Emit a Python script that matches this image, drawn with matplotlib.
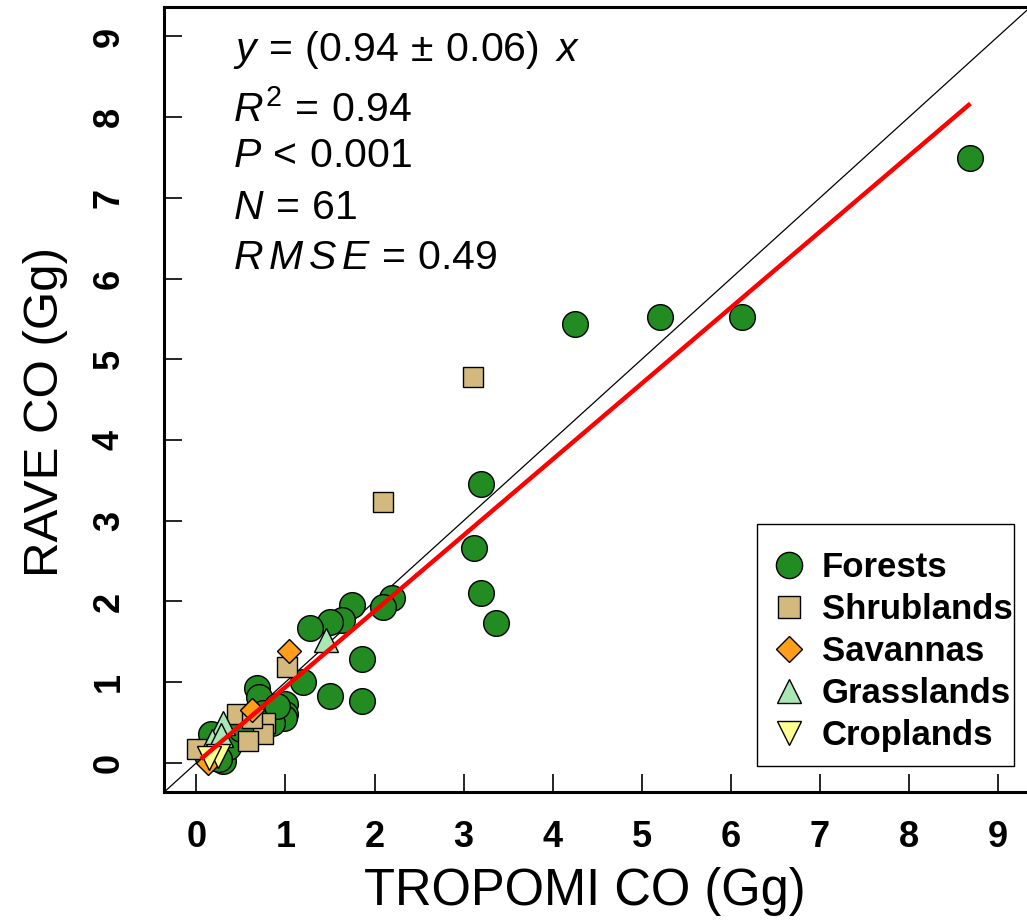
import matplotlib
matplotlib.use("Agg")
import matplotlib.pyplot as plt
import numpy as np
from matplotlib.lines import Line2D
from matplotlib.patches import Rectangle

plt.rcParams['font.family'] = ['Liberation Sans', 'DejaVu Sans']
plt.rcParams['mathtext.fontset'] = 'custom'
plt.rcParams['mathtext.rm'] = 'Liberation Sans'
plt.rcParams['mathtext.it'] = 'Liberation Sans:italic'
plt.rcParams['mathtext.bf'] = 'Liberation Sans:bold'

# ---- data ----
forest_x = [8.69, 6.13, 5.21, 4.25, 3.19, 3.12, 3.20, 3.36, 2.20, 2.10, 1.75, 1.64,
            1.50, 1.28, 1.86, 1.20, 1.50, 1.86, 1.00, 1.00, 0.98, 0.68, 0.70, 0.68,
            0.60, 0.85, 0.55, 0.40, 0.29, 0.16, 0.16, 0.30, 0.22, 0.45, 0.35, 0.12,
            0.25, 0.50, 0.75, 0.90]
forest_y = [7.49, 5.52, 5.52, 5.44, 3.45, 2.66, 2.11, 1.73, 2.04, 1.93, 1.95, 1.77,
            1.74, 1.67, 1.29, 1.00, 0.83, 0.77, 0.73, 0.61, 0.56, 0.93, 0.81, 0.40,
            0.55, 0.50, 0.45, 0.38, 0.27, 0.36, 0.06, 0.02, 0.15, 0.30, 0.20, 0.10,
            0.05, 0.42, 0.62, 0.70]
shrub_x = [3.11, 2.09, 1.02, 0.46, 0.77, 0.75, 0.58, 0.01, 0.62]
shrub_y = [4.78, 3.23, 1.19, 0.61, 0.49, 0.36, 0.27, 0.17, 0.55]
savanna_x = [1.04, 0.63, 0.13]
savanna_y = [1.38, 0.65, 0.00]
grass_x = [1.45, 0.30, 0.18, 0.28]
grass_y = [1.52, 0.50, 0.27, 0.35]
crop_x = [0.24, 0.14]
crop_y = [0.09, 0.06]

slope = 0.94
stats_lines = [r'$y\,=\,(0.94\,\pm\,0.06)\ \,x$', r'$R^2\,=\,0.94$', r'$P\,<\,0.001$',
               r'$N\,=\,61$', r'$R\,M\,S\,E\,=\,0.49$']
stats_y = [8.69, 7.95, 7.38, 6.74, 6.12]
ticks = list(range(0, 10))

categories = ['Forests', 'Shrublands', 'Savannas', 'Grasslands', 'Croplands']
colors = ['#228B22', '#D3B97D', '#FF9E1B', '#A9E8B5', '#FFFF8F']
markers = ['o', 's', 'D', '^', 'v']
msizes = [18.5, 15, 12.5, 17, 17]
xs = [forest_x, shrub_x, savanna_x, grass_x, crop_x]
ys = [forest_y, shrub_y, savanna_y, grass_y, crop_y]

fig = plt.figure(figsize=(10.27, 9.23), dpi=100)
ax = fig.add_axes([0.160, 0.142, 0.843, 0.850])
ax.set_xlim(-0.36, 9.36)
ax.set_ylim(-0.36, 9.36)

# 1:1 line
ax.plot([-1, 10], [-1, 10], color='black', lw=0.9, zorder=1)

for x, y, c, m, ms in zip(xs, ys, colors, markers, msizes):
    ax.plot(x, y, linestyle='none', marker=m, ms=ms, mfc=c, mec='black', mew=1.0, zorder=3)

allx = np.concatenate([np.array(v) for v in xs])
xx = np.array([allx.min() + 0.04, allx.max()])
ax.plot(xx, slope * xx, color='#FF0000', lw=3.2, zorder=5, solid_capstyle='butt')

for s, yy in zip(stats_lines, stats_y):
    ax.text(0.415, yy, s, fontsize=29.5, va='baseline', ha='left', zorder=6)

ax.set_xticks(ticks)
ax.set_yticks(ticks)
ax.set_xticklabels([str(t) for t in ticks], fontweight='bold', fontsize=26)
ax.set_yticklabels([str(t) for t in ticks], fontweight='bold', fontsize=26,
                   rotation=90, va='center')
ax.tick_params(axis='x', direction='in', length=13, width=1.2, pad=20)
ax.tick_params(axis='y', direction='in', length=13, width=1.2, pad=27)
for sp in ax.spines.values():
    sp.set_linewidth(2.2)

ax.set_xlabel('TROPOMI CO (Gg)', fontsize=36.5, labelpad=9)
ax.set_ylabel('RAVE CO (Gg)', fontsize=35.5, labelpad=17)
ax.xaxis.label.set_x(0.486)
ax.yaxis.label.set_y(0.484)

# legend box (frame drawn separately, R style tight box)
ax.add_patch(Rectangle((0.685, 0.033), 0.297, 0.308, transform=ax.transAxes,
                       facecolor='white', edgecolor='black', lw=1.0, zorder=7))
handles = [Line2D([], [], linestyle='none', marker=m, ms=ms * 1.02, mfc=c, mec='black', mew=1.0)
           for c, m, ms in zip(colors, markers, msizes)]
leg = ax.legend(handles, categories, loc='lower right', bbox_to_anchor=(0.980, 0.051),
                prop={'weight': 'bold', 'size': 25}, frameon=False,
                labelspacing=0.26, handlelength=1.0,
                handletextpad=0.45, borderpad=0.0, borderaxespad=0)
leg.set_zorder(8)

fig.savefig('out.png', dpi=100)
